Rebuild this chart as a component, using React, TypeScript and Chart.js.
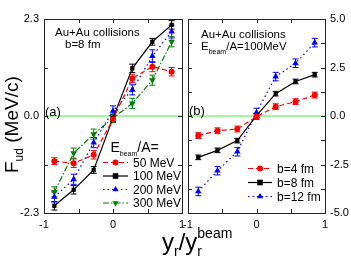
import React, { useEffect, useRef } from 'react';
import { Chart, registerables } from 'chart.js';
Chart.register(...registerables);

// ---------- data ----------
const xVals = [-0.85, -0.57, -0.28, 0, 0.28, 0.57, 0.85];

// panel (a): Au+Au, b=8 fm, different beam energies
const aLabels = ['50 MeV', '100 MeV', '200 MeV', '300 MeV'];
const a50 = [-1.07, -1.12, -0.92, -0.08, 0.89, 1.17, 1.05];
const a100 = [-2.13, -1.75, -1.28, -0.05, 1.13, 1.76, 2.16];
const a200 = [-1.92, -1.5, -0.63, 0.12, 0.62, 1.42, 2.0];
const a300 = [-1.8, -0.88, -0.43, -0.05, 0.3, 0.85, 1.76];
const a50Err = [0.08, 0.1, 0.1, 0.08, 0.1, 0.12, 0.1];
const a100Err = [0.1, 0.1, 0.08, 0.08, 0.1, 0.08, 0.1];
const a200Err = [0.12, 0.12, 0.12, 0.12, 0.12, 0.15, 0.15];
const a300Err = [0.12, 0.12, 0.12, 0.1, 0.12, 0.12, 0.12];

// panel (b): Au+Au, Ebeam/A = 100 MeV, different impact parameters
const bLabels = ['b=4 fm', 'b=8 fm', 'b=12 fm'];
const b4 = [-1.01, -0.76, -0.67, -0.03, 0.48, 0.74, 1.08];
const b8 = [-2.13, -1.77, -1.27, 0.02, 1.15, 1.78, 2.13];
const b12 = [-3.89, -2.82, -1.84, 0.18, 2.03, 2.72, 3.78];
const b4Err = [0.15, 0.15, 0.15, 0.15, 0.15, 0.15, 0.15];
const b8Err = [0.12, 0.12, 0.12, 0.12, 0.12, 0.12, 0.12];
const b12Err = [0.22, 0.22, 0.22, 0.22, 0.22, 0.22, 0.22];

const xTicks = [-1, -0.5, 0, 0.5, 1];
const xTickLabels = [-1, 0, 1];
const aYTicks = [-2.3, -1.15, 0, 1.15, 2.3];
const aYTickLabels = [-2.3, 0, 2.3];
const bYTicks = [-5, -3.75, -2.5, -1.25, 0, 1.25, 2.5, 3.75, 5];
const bYTickLabels = [-5, -2.5, 0, 2.5, 5];

// ---------- styles ----------
const FONT = '"Liberation Sans", Arial, Helvetica, sans-serif';
const W = 351;
const H = 259;

type Style = { color: string; dash: number[]; marker: string; rotation?: number };
const sRed: Style = { color: '#ff0000', dash: [5, 3], marker: 'circle' };
const sBlack: Style = { color: '#000000', dash: [], marker: 'rect' };
const sBlue: Style = { color: '#0000ff', dash: [1.5, 3], marker: 'triangle' };
const sGreen: Style = { color: '#008000', dash: [6, 2, 1.5, 2], marker: 'triangle', rotation: 180 };

function drawMarker(ctx: CanvasRenderingContext2D, st: Style, x: number, y: number) {
  ctx.save();
  ctx.setLineDash([]);
  ctx.fillStyle = st.color;
  ctx.beginPath();
  if (st.marker === 'circle') {
    ctx.arc(x, y, 3, 0, Math.PI * 2);
  } else if (st.marker === 'rect') {
    ctx.rect(x - 2.8, y - 2.8, 5.6, 5.6);
  } else {
    const r = 3.6;
    const d = st.rotation === 180 ? -1 : 1;
    ctx.moveTo(x, y - d * r);
    ctx.lineTo(x - r * 0.87, y + d * r * 0.5);
    ctx.lineTo(x + r * 0.87, y + d * r * 0.5);
    ctx.closePath();
  }
  ctx.fill();
  ctx.restore();
}

type Panel = {
  series: { values: number[]; err: number[]; style: Style; label: string }[];
  yMin: number;
  yMax: number;
  yTicks: number[];
  yTickLabels: number[];
  yPos: 'left' | 'right';
  left: number;
  right: number;
  draw: (ctx: CanvasRenderingContext2D) => void;
};

function fmtTick(v: number) {
  if (v === 0) return '0.0';
  return v.toFixed(1);
}

function makeChart(canvas: HTMLCanvasElement, p: Panel) {
  const TOP = 19;
  const BOTTOM = 213;
  const plugin = {
    id: 'panelDecor',
    beforeDatasetsDraw(chart: any) {
      const ctx = chart.ctx as CanvasRenderingContext2D;
      const xs = chart.scales.x;
      const ys = chart.scales.y;
      const y0 = ys.getPixelForValue(0);
      ctx.save();
      ctx.strokeStyle = '#44ee44';
      ctx.lineWidth = 1.2;
      ctx.beginPath();
      ctx.moveTo(xs.left, y0);
      ctx.lineTo(xs.right, y0);
      ctx.stroke();
      ctx.restore();
      // error bars
      p.series.forEach((s) => {
        ctx.save();
        ctx.strokeStyle = s.style.color;
        ctx.lineWidth = 1;
        s.values.forEach((v, i) => {
          const x = xs.getPixelForValue(xVals[i]);
          const yt = ys.getPixelForValue(v + s.err[i]);
          const yb = ys.getPixelForValue(v - s.err[i]);
          ctx.beginPath();
          ctx.moveTo(x, yt);
          ctx.lineTo(x, yb);
          ctx.moveTo(x - 3, yt);
          ctx.lineTo(x + 3, yt);
          ctx.moveTo(x - 3, yb);
          ctx.lineTo(x + 3, yb);
          ctx.stroke();
        });
        ctx.restore();
      });
    },
    afterDraw(chart: any) {
      const ctx = chart.ctx as CanvasRenderingContext2D;
      const xs = chart.scales.x;
      const ys = chart.scales.y;
      const { left, right, top, bottom } = chart.chartArea;
      ctx.save();
      ctx.strokeStyle = '#222';
      ctx.lineWidth = 1;
      ctx.strokeRect(Math.round(left) + 0.5, Math.round(top) + 0.5, Math.round(right - left), Math.round(bottom - top));
      const tl = 4;
      ctx.beginPath();
      xTicks.forEach((v) => {
        const x = Math.round(xs.getPixelForValue(v)) + 0.5;
        ctx.moveTo(x, bottom);
        ctx.lineTo(x, bottom - tl);
        ctx.moveTo(x, top);
        ctx.lineTo(x, top + tl);
      });
      p.yTicks.forEach((v) => {
        const y = Math.round(ys.getPixelForValue(v)) + 0.5;
        ctx.moveTo(left, y);
        ctx.lineTo(left + tl, y);
        ctx.moveTo(right, y);
        ctx.lineTo(right - tl, y);
      });
      ctx.stroke();
      ctx.restore();
      ctx.save();
      p.draw(ctx);
      ctx.restore();
    },
  };

  return new Chart(canvas, {
    type: 'line',
    data: {
      datasets: p.series.map((s) => ({
        label: s.label,
        data: xVals.map((x, i) => ({ x, y: s.values[i] })),
        borderColor: s.style.color,
        backgroundColor: s.style.color,
        borderWidth: 1.2,
        borderDash: s.style.dash,
        pointStyle: s.style.marker as any,
        pointRotation: s.style.rotation || 0,
        pointRadius: s.style.marker === 'triangle' ? 3.8 : 3,
        pointBorderWidth: 0,
        tension: 0,
        fill: false,
      })),
    },
    options: {
      animation: false,
      responsive: false,
      maintainAspectRatio: false,
      events: [],
      layout: { padding: { left: p.left, right: p.right, top: TOP, bottom: 0 } },
      plugins: { legend: { display: false }, tooltip: { enabled: false } },
      scales: {
        x: {
          type: 'linear',
          min: -1,
          max: 1,
          grid: { display: false, drawTicks: false },
          border: { display: false },
          afterBuildTicks: (s: any) => {
            s.ticks = xTicks.map((v) => ({ value: v }));
          },
          afterFit: (s: any) => {
            s.height = H - BOTTOM;
          },
          ticks: {
            autoSkip: false,
            maxRotation: 0,
            padding: 5,
            color: '#000',
            font: { family: FONT, size: 11 },
            callback: (v: any) => (xTickLabels.includes(Number(v)) ? String(v) : ''),
          },
        },
        y: {
          type: 'linear',
          position: p.yPos,
          min: p.yMin,
          max: p.yMax,
          grid: { display: false, drawTicks: false },
          border: { display: false },
          afterBuildTicks: (s: any) => {
            s.ticks = p.yTicks.map((v) => ({ value: v }));
          },
          afterFit: (s: any) => {
            s.width = p.yPos === 'left' ? 44 : 26;
          },
          ticks: {
            autoSkip: false,
            padding: 5,
            color: '#000',
            font: { family: FONT, size: 11 },
            callback: (v: any) => (p.yTickLabels.includes(Number(v)) ? fmtTick(Number(v)) : ''),
          },
        },
      },
    } as any,
    plugins: [plugin],
  });
}

function text(ctx: CanvasRenderingContext2D, s: string, x: number, y: number, size: number, color = '#000') {
  ctx.font = `${size}px ${FONT}`;
  ctx.fillStyle = color;
  ctx.textBaseline = 'alphabetic';
  ctx.textAlign = 'left';
  ctx.fillText(s, x, y);
  return ctx.measureText(s).width;
}

function legendRow(ctx: CanvasRenderingContext2D, st: Style, label: string, x1: number, x2: number, y: number, tx: number) {
  ctx.save();
  ctx.strokeStyle = st.color;
  ctx.lineWidth = 1.2;
  ctx.setLineDash(st.dash);
  ctx.beginPath();
  ctx.moveTo(x1, y);
  ctx.lineTo(x2, y);
  ctx.stroke();
  ctx.restore();
  drawMarker(ctx, st, (x1 + x2) / 2, y);
  text(ctx, label, tx, y + 4.3, 12);
}

const panelA: Panel = {
  series: [
    { values: a50, err: a50Err, style: sRed, label: aLabels[0] },
    { values: a100, err: a100Err, style: sBlack, label: aLabels[1] },
    { values: a200, err: a200Err, style: sBlue, label: aLabels[2] },
    { values: a300, err: a300Err, style: sGreen, label: aLabels[3] },
  ],
  yMin: -2.3,
  yMax: 2.3,
  yTicks: aYTicks,
  yTickLabels: aYTickLabels,
  yPos: 'left',
  left: 0,
  right: W - 182,
  draw: (ctx) => {
    text(ctx, 'Au+Au collisions', 55, 36, 11.5);
    text(ctx, 'b=8 fm', 65, 48, 11.5);
    text(ctx, '(a)', 45, 115.5, 13);
    // legend header
    let x = 110.5;
    x += text(ctx, 'E', x, 152, 14);
    x += text(ctx, 'beam', x, 155.5, 7);
    text(ctx, '/A=', x, 152, 14);
    const rows = [162.5, 176, 189.5, 203];
    panelA.series.forEach((s, i) => legendRow(ctx, s.style, s.label, 103, 128, rows[i], 133));
    // y axis title
    ctx.save();
    ctx.translate(18, 173);
    ctx.rotate(-Math.PI / 2);
    let tx = 0;
    tx += text(ctx, 'F', tx, 0, 19);
    tx += text(ctx, 'ud', tx, 5, 12);
    text(ctx, ' (MeV/c)', tx, 0, 19);
    ctx.restore();
  },
};

const panelB: Panel = {
  series: [
    { values: b4, err: b4Err, style: sRed, label: bLabels[0] },
    { values: b8, err: b8Err, style: sBlack, label: bLabels[1] },
    { values: b12, err: b12Err, style: sBlue, label: bLabels[2] },
  ],
  yMin: -5,
  yMax: 5,
  yTicks: bYTicks,
  yTickLabels: bYTickLabels,
  yPos: 'right',
  left: 188,
  right: 0,
  draw: (ctx) => {
    text(ctx, 'Au+Au collisions', 201, 37.5, 11.5);
    let x = 201;
    x += text(ctx, 'E', x, 50, 11.5);
    x += text(ctx, 'beam', x, 54, 7);
    text(ctx, '/A=100MeV', x, 50, 11.5);
    text(ctx, '(b)', 189, 114.5, 13);
    const rows = [168.5, 182.5, 196.5];
    panelB.series.forEach((s, i) => legendRow(ctx, s.style, s.label, 248, 272, rows[i], 277));
    // x axis title
    let tx = 162;
    tx += text(ctx, 'y', tx, 250, 24);
    tx += text(ctx, 'r', tx, 256, 14);
    tx += text(ctx, '/', tx, 250, 24);
    tx += text(ctx, 'y', tx, 250, 24);
    text(ctx, 'beam', tx, 238, 14);
    text(ctx, 'r', tx, 256, 14);
  },
};

export default function App() {
  const refA = useRef<HTMLCanvasElement>(null);
  const refB = useRef<HTMLCanvasElement>(null);
  useEffect(() => {
    const ca = makeChart(refA.current!, panelA);
    const cb = makeChart(refB.current!, panelB);
    return () => {
      ca.destroy();
      cb.destroy();
    };
  }, []);
  const cs: React.CSSProperties = { position: 'absolute', left: 0, top: 0, width: W, height: H };
  return (
    <div style={{ position: 'absolute', left: 0, top: 0, width: W, height: H, background: '#fff' }}>
      <canvas ref={refA} width={W} height={H} style={cs} />
      <canvas ref={refB} width={W} height={H} style={cs} />
    </div>
  );
}
